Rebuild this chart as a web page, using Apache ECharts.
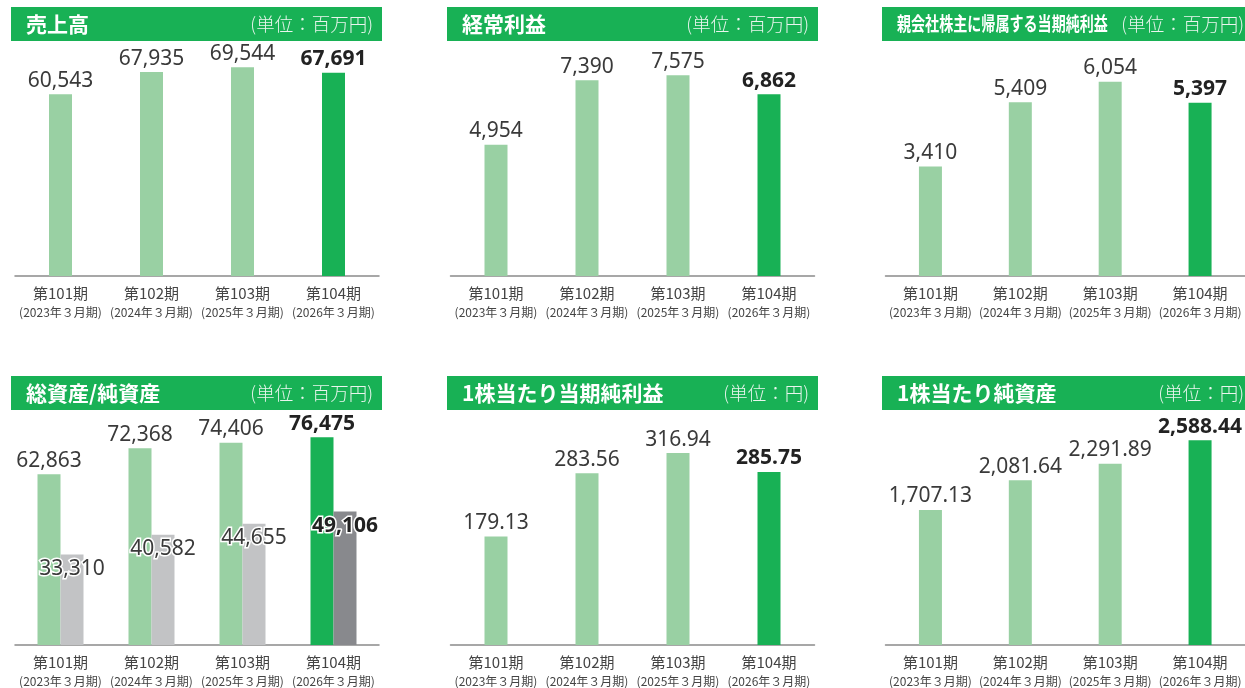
<!DOCTYPE html>
<html>
<head>
<meta charset="utf-8">
<script src="https://cdn.jsdelivr.net/npm/echarts@6/dist/echarts.min.js"></script>
<style>
  html, body { margin: 0; padding: 0; background: #fff; }
  #main { width: 1245px; height: 688px; }
</style>
</head>
<body>
<div id="main"></div>
<script>
const periods = ['第101期', '第102期', '第103期', '第104期']
const fiscalYears = ['(2023年３月期)', '(2024年３月期)', '(2025年３月期)', '(2026年３月期)']
const sales = [60543, 67935, 69544, 67691]
const ordinaryProfit = [4954, 7390, 7575, 6862]
const netIncome = [3410, 5409, 6054, 5397]
const totalAssets = [62863, 72368, 74406, 76475]
const netAssets = [33310, 40582, 44655, 49106]
const eps = [179.13, 283.56, 316.94, 285.75]
const bps = [1707.13, 2081.64, 2291.89, 2588.44]

const GREEN = '#18b155'
const LIGHT_GREEN = '#99d0a3'
const GRAY = '#c2c3c5'
const DARK_GRAY = '#88898d'
const FONT = '"Noto Sans", "Noto Sans CJK JP", sans-serif'
const CJK = '"Noto Sans CJK JP", sans-serif'

// panel layout: col/row in the 3x2 grid, header texts, y max
const panels = [
  { col: 0, row: 0, title: '売上高', unit: '(単位：百万円)', max: 78300 },
  { col: 1, row: 0, title: '経常利益', unit: '(単位：百万円)', max: 8870 },
  { col: 2, row: 0, title: '親会社株主に帰属する当期純利益', unit: '(単位：百万円)', max: 7320, narrow: true },
  { col: 0, row: 1, title: '総資産/純資産', unit: '(単位：百万円)', max: 86460 },
  { col: 1, row: 1, title: '1株当たり当期純利益', unit: '(単位：円)', max: 388 },
  { col: 2, row: 1, title: '1株当たり純資産', unit: '(単位：円)', max: 2971 }
]

const COL_X = [15, 450.5, 885.5]
const HEADER_X = [11, 447, 882]
const ROW_TOP = [41, 410]
const HEADER_Y = [7, 376]
const GRID_H = 235

function fmt(v, dec) {
  return v.toLocaleString('en-US', { minimumFractionDigits: dec, maximumFractionDigits: dec })
}

function items(values, base, last, dec, pos, bordered) {
  return values.map((v, i) => {
    const isLast = i === values.length - 1
    return {
      value: v,
      itemStyle: { color: isLast ? last : base },
      label: {
        show: true,
        position: pos,
        distance: pos === 'top' ? 3 : 4,
        formatter: fmt(v, dec),
        fontFamily: FONT,
        fontSize: 21,
        fontWeight: isLast ? 'bold' : 'normal',
        color: isLast ? '#222' : '#3a3a3a',
        textBorderColor: bordered ? '#fff' : 'transparent',
        textBorderWidth: bordered ? 3 : 0
      }
    }
  })
}

const grids = []
const xAxes = []
const yAxes = []
const graphics = []

panels.forEach((p, i) => {
  grids.push({ left: COL_X[p.col], top: ROW_TOP[p.row], width: 364, height: GRID_H })
  xAxes.push({
    type: 'category',
    gridIndex: i,
    data: periods,
    axisLine: { lineStyle: { color: '#8a8a8a', width: 1.5 } },
    axisTick: { show: false },
    axisLabel: {
      margin: 8,
      interval: 0,
      formatter: (val, idx) => '{a|' + val + '}\n{b|' + fiscalYears[idx] + '}',
      rich: {
        a: { fontFamily: CJK, fontSize: 15, lineHeight: 19, color: '#444' },
        b: { fontFamily: CJK, fontSize: 12, lineHeight: 19, color: '#444' }
      }
    }
  })
  yAxes.push({
    type: 'value',
    gridIndex: i,
    min: 0,
    max: p.max,
    show: false,
    splitLine: { show: false }
  })

  const hx = HEADER_X[p.col]
  const hy = HEADER_Y[p.row]
  graphics.push({
    type: 'rect',
    shape: { x: hx, y: hy, width: 371, height: 34 },
    style: { fill: GREEN },
    silent: true
  })
  graphics.push({
    type: 'text',
    x: hx + 15,
    y: hy + 17,
    scaleX: p.narrow ? 0.74 : 1,
    style: {
      text: p.title,
      fill: '#fff',
      fontFamily: CJK,
      fontSize: p.narrow ? 19 : 21,
      fontWeight: 'bold',
      verticalAlign: 'middle',
      align: 'left'
    },
    silent: true
  })
  graphics.push({
    type: 'text',
    x: hx + 362,
    y: hy + 17,
    style: {
      text: p.unit,
      fill: '#eaf5ee',
      fontFamily: CJK,
      fontSize: 18.5,
      fontWeight: 300,
      verticalAlign: 'middle',
      align: 'right'
    },
    silent: true
  })
})

function barSeries(idx, values, dec) {
  return {
    type: 'bar',
    xAxisIndex: idx,
    yAxisIndex: idx,
    barWidth: 23,
    data: items(values, LIGHT_GREEN, GREEN, dec, 'top', false)
  }
}

const series = [
  barSeries(0, sales, 0),
  barSeries(1, ordinaryProfit, 0),
  barSeries(2, netIncome, 0),
  {
    type: 'bar',
    xAxisIndex: 3,
    yAxisIndex: 3,
    barWidth: 23,
    barGap: '0%',
    data: items(totalAssets, LIGHT_GREEN, GREEN, 0, 'top', false)
  },
  {
    type: 'bar',
    xAxisIndex: 3,
    yAxisIndex: 3,
    barWidth: 23,
    barGap: '0%',
    data: items(netAssets, GRAY, DARK_GRAY, 0, 'insideTop', true)
  },
  barSeries(4, eps, 2),
  barSeries(5, bps, 2)
]

const chart = echarts.init(document.getElementById('main'))
chart.setOption({
  animation: false,
  backgroundColor: '#fff',
  grid: grids,
  xAxis: xAxes,
  yAxis: yAxes,
  series: series,
  graphic: graphics
})
</script>
</body>
</html>
